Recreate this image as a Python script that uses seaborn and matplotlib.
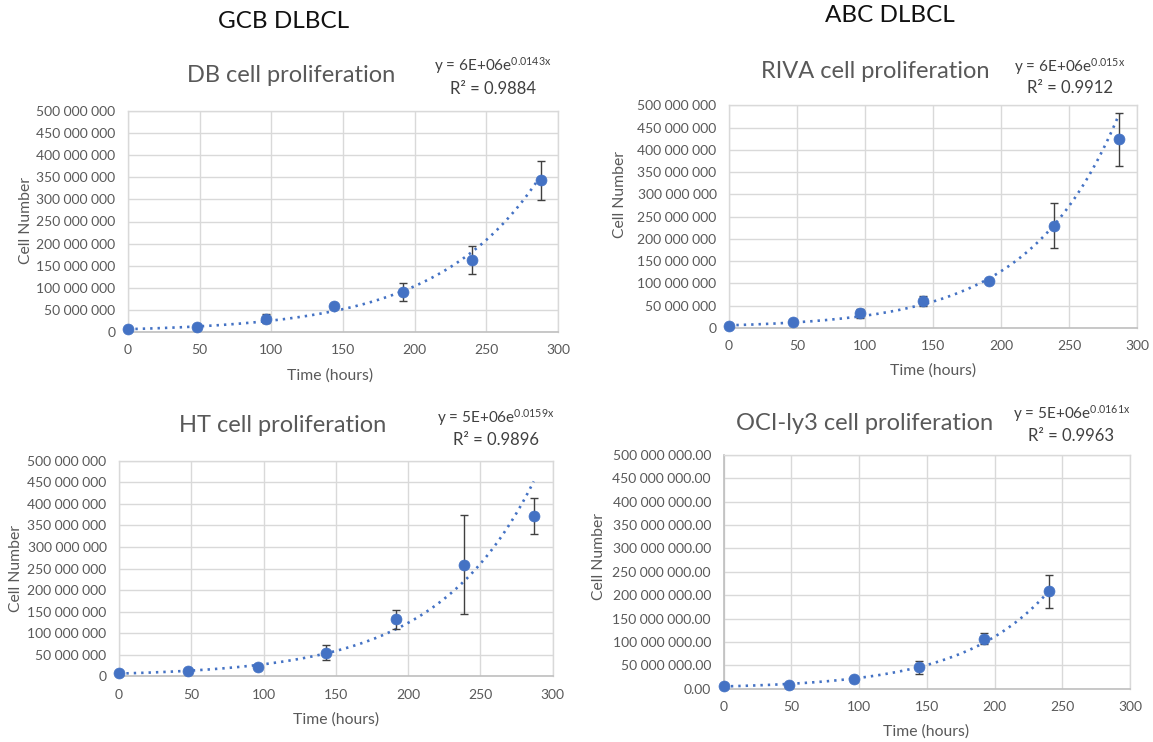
import numpy as np
import pandas as pd
import matplotlib
matplotlib.use("Agg")
import matplotlib.pyplot as plt
from matplotlib.ticker import FuncFormatter, MultipleLocator
import seaborn as sns

# ---------------- data ----------------
time_db = [0, 48, 96, 144, 192, 240, 288]
db_mean = [6.0e6, 10.5e6, 30e6, 58e6, 90e6, 163e6, 343e6]
db_err = [1e6, 2e6, 10e6, 4e6, 20e6, 32e6, 44e6]

time_riva = [0, 47, 96, 143, 191, 239, 287]
riva_mean = [4.5e6, 13.5e6, 33e6, 61e6, 106e6, 230e6, 424e6]
riva_err = [1e6, 4e6, 9.5e6, 11e6, 2e6, 50.5e6, 59.5e6]

time_ht = [0, 48, 96, 143, 192, 239, 287]
ht_mean = [7.0e6, 11.5e6, 22e6, 55e6, 132e6, 259e6, 372e6]
ht_err = [1e6, 3e6, 6e6, 18e6, 22e6, 115e6, 42e6]

time_oci = [0, 48, 96, 144, 192, 240]
oci_mean = [5.7e6, 8.6e6, 20e6, 46e6, 107e6, 208e6]
oci_err = [1e6, 2e6, 5e6, 14e6, 12e6, 36e6]

titles = ["DB cell proliferation", "RIVA cell proliferation",
          "HT cell proliferation", "OCI-ly3 cell proliferation"]
equations = ["y = 6E+06e$^{0.0143x}$", "y = 6E+06e$^{0.015x}$",
             "y = 5E+06e$^{0.0159x}$", "y = 5E+06e$^{0.0161x}$"]
r2_labels = ["R² = 0.9884", "R² = 0.9912", "R² = 0.9896", "R² = 0.9963"]
group_headers = ["GCB DLBCL", "ABC DLBCL"]
x_label = "Time (hours)"
y_label = "Cell Number"

# ---------------- style ----------------
sns.set_theme(style="white")
FONT = "Lato"
plt.rcParams["font.family"] = [FONT, "DejaVu Sans"]
plt.rcParams["mathtext.fontset"] = "custom"
plt.rcParams["mathtext.rm"] = FONT
plt.rcParams["mathtext.it"] = FONT
plt.rcParams["mathtext.default"] = "regular"

W, H = 1153, 742
fig = plt.figure(figsize=(W / 100, H / 100), dpi=100)
fig.patch.set_facecolor("white")

BLUE = "#4472C4"
GRID = "#D9D9D9"
TXT = "#595959"


def box(l, t, r, b):
    return [l / W, 1 - b / H, (r - l) / W, (b - t) / H]


def P(x, y):
    return x / W, 1 - y / H


panels = [
    dict(t=time_db, m=db_mean, e=db_err, rect=box(128, 111, 558, 332),
         title=(291, 75), eq=(493, 66), r2=(493, 89), yl=(26, 221), xl=(330, 376), dec=False),
    dict(t=time_riva, m=riva_mean, e=riva_err, rect=box(729, 105.3, 1137, 328),
         title=(875, 71), eq=(1070, 67), r2=(1070, 88), yl=(620, 195), xl=(933, 371), dec=False),
    dict(t=time_ht, m=ht_mean, e=ht_err, rect=box(119, 460.7, 552.5, 676.3),
         title=(283, 426), eq=(496, 418), r2=(496, 440), yl=(16, 568), xl=(336, 720), dec=False),
    dict(t=time_oci, m=oci_mean, e=oci_err, rect=box(723.5, 455, 1130, 688.7),
         title=(865, 423), eq=(1072, 414), r2=(1071, 436), yl=(599, 557), xl=(926, 732), dec=True),
]

for i, p in enumerate(panels):
    ax = fig.add_axes(p["rect"])
    df = pd.DataFrame({"time": p["t"], "cells": p["m"], "err": p["e"]})

    # exponential trend line fitted to the data (log-linear least squares, like Excel)
    b, lna = np.polyfit(df["time"], np.log(df["cells"]), 1)
    xs = np.linspace(0, df["time"].max(), 200)
    trend = pd.DataFrame({"time": xs, "fit": np.exp(lna + b * xs)})
    sns.lineplot(data=trend, x="time", y="fit", ax=ax, color=BLUE, lw=1.9,
                 linestyle=(0, (0.9, 1.9)), zorder=3)

    ax.errorbar(df["time"], df["cells"], yerr=df["err"], fmt="none",
                ecolor="#404040", elinewidth=1.0, capsize=3.2, capthick=1.0, zorder=4)
    sns.scatterplot(data=df, x="time", y="cells", ax=ax, color=BLUE, s=62,
                    edgecolor=BLUE, linewidth=0.5, zorder=5, clip_on=False)

    ax.set_xlim(0, 300)
    ax.set_ylim(0, 500e6)
    ax.xaxis.set_major_locator(MultipleLocator(50))
    ax.yaxis.set_major_locator(MultipleLocator(50e6))
    if p["dec"]:
        ax.yaxis.set_major_formatter(FuncFormatter(lambda v, _: f"{v:,.2f}".replace(",", " ")))
    else:
        ax.yaxis.set_major_formatter(FuncFormatter(lambda v, _: f"{v:,.0f}".replace(",", " ")))
    ax.xaxis.set_major_formatter(FuncFormatter(lambda v, _: f"{v:.0f}"))

    ax.grid(True, color=GRID, lw=1.0)
    ax.set_axisbelow(True)
    for s in ["top", "right", "left"]:
        ax.spines[s].set_color(GRID)
        ax.spines[s].set_linewidth(1.0)
    ax.spines["bottom"].set_color("#BFBFBF")
    ax.spines["bottom"].set_linewidth(1.2)
    ax.tick_params(axis="both", length=0, labelsize=10, labelcolor=TXT)
    ax.tick_params(axis="x", pad=9)
    ax.tick_params(axis="y", pad=9)
    if p["dec"]:
        ax.spines["left"].set_color("#BFBFBF")
        ax.spines["left"].set_linewidth(1.2)
        ax.yaxis.set_minor_locator(MultipleLocator(5e6))
        ax.tick_params(axis="y", which="minor", length=3, color="#BFBFBF", width=0.8)
        ax.tick_params(axis="y", which="major", length=4, color="#BFBFBF", width=0.8, pad=5)
    ax.set_xlabel("")
    ax.set_ylabel("")

    fig.text(*P(*p["title"]), titles[i], ha="center", va="center", fontsize=17, color=TXT)
    fig.text(*P(*p["eq"]), equations[i], ha="center", va="center", fontsize=11, color="#404040")
    fig.text(*P(*p["r2"]), r2_labels[i], ha="center", va="center", fontsize=12, color="#404040")
    fig.text(*P(*p["yl"]), y_label, ha="center", va="center", rotation=90, fontsize=11.3, color=TXT)
    fig.text(*P(*p["xl"]), x_label, ha="center", va="center", fontsize=11.3, color=TXT)

fig.text(*P(284, 21), group_headers[0], ha="center", va="center", fontsize=17.5, color="#111111")
fig.text(*P(890, 15), group_headers[1], ha="center", va="center", fontsize=17.5, color="#111111")

fig.savefig("out.png", dpi=100, facecolor="white")
